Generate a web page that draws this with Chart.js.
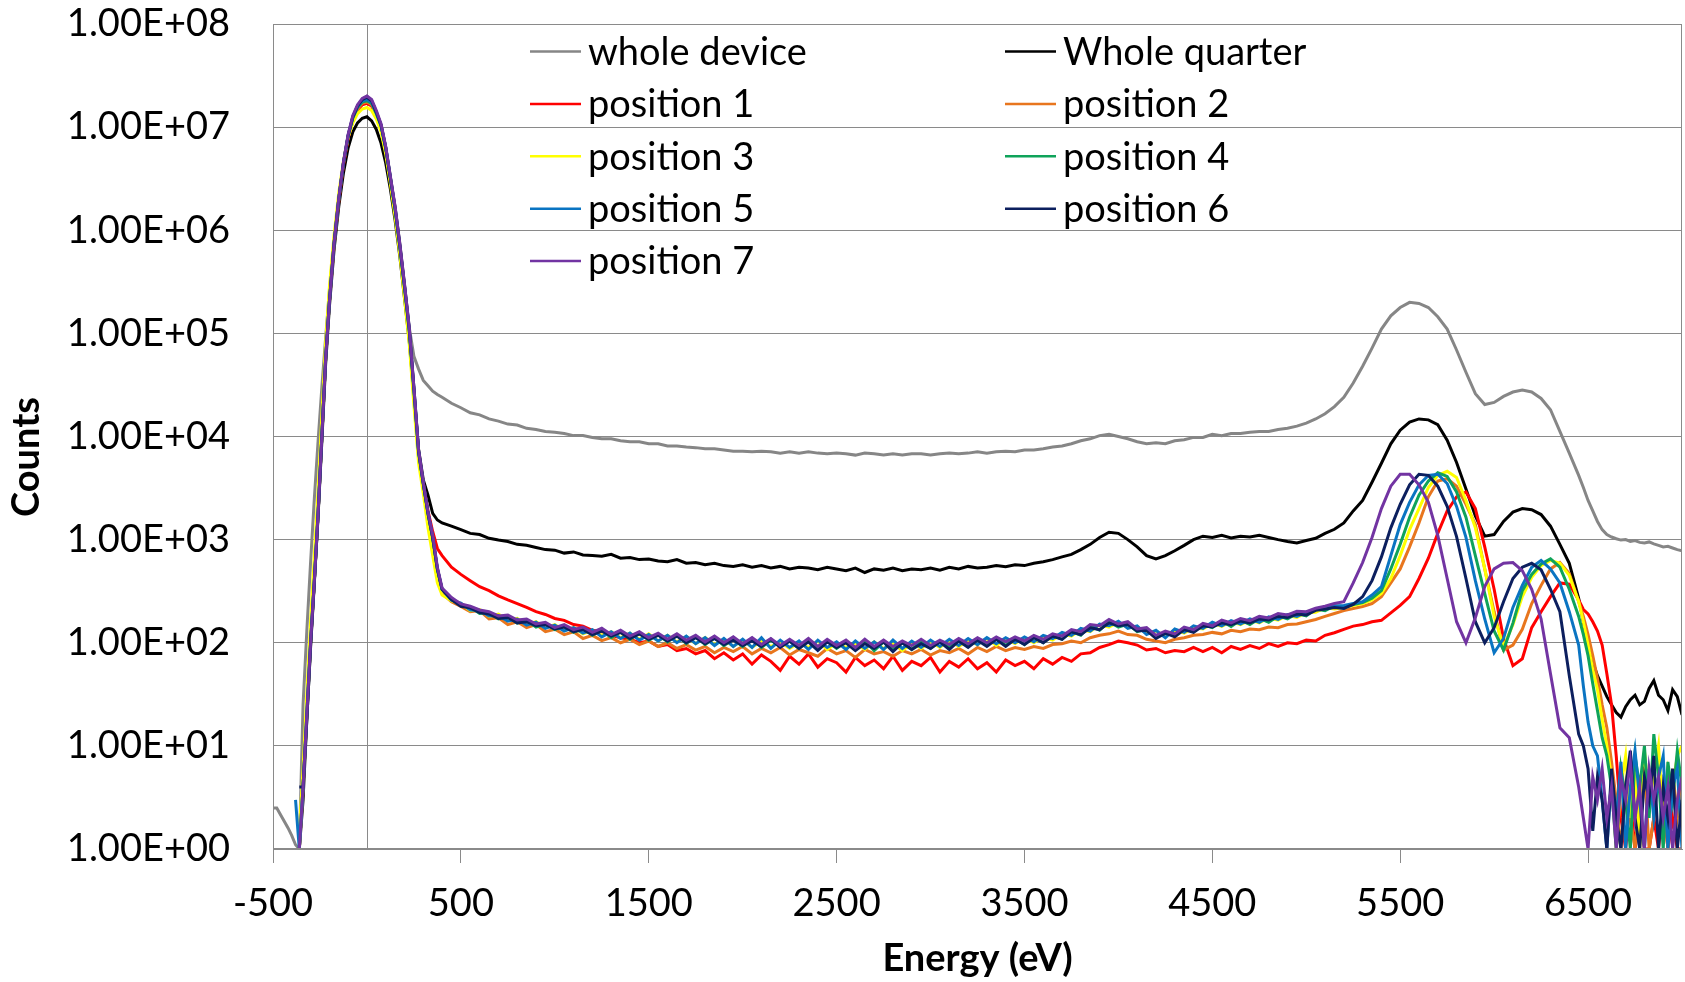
<!DOCTYPE html>
<html><head><meta charset="utf-8">
<script src="https://cdn.jsdelivr.net/npm/chart.js@4.4.1/dist/chart.umd.min.js"></script>
<style>html,body{margin:0;padding:0;background:#fff;}#wrap{width:1685px;height:982px;position:relative;}</style>
</head><body><div id="wrap"><canvas id="c" width="1685" height="982"></canvas></div>
<script>
const energy = [-500,-480,-450,-420,-400,-380,-360,-340,-320,-300,-280,-260,-240,-220,-200,
-175,-150,-125,-100,-75,-50,-25,0,25,50,75,100,125,150,175,200,225,250,275,300,325,350,375,400,
450,500,550,600,650,700,750,800,850,900,
950,1000,1050,1100,1150,1200,1250,1300,1350,1400,
1450,1500,1550,1600,1650,1700,1750,1800,1850,1900,
1950,2000,2050,2100,2150,2200,2250,2300,2350,2400,
2450,2500,2550,2600,2650,2700,2750,2800,2850,2900,
2950,3000,3050,3100,3150,3200,3250,3300,3350,3400,
3450,3500,3550,3600,3650,3700,3750,3800,3850,3900,
3950,4000,4050,4100,4150,4200,4250,4300,4350,4400,
4450,4500,4550,4600,4650,4700,4750,4800,4850,4900,
4950,5000,5050,5100,5150,5200,5250,5300,5350,5400,
5450,5500,5550,5600,5650,5700,5750,5800,5850,5900,
5950,6000,6050,6100,6150,6200,6250,6300,6350,6400,
6450,
6475,6500,6525,6550,6575,6600,6625,6650,6675,6700,6725,6750,6775,6800,6825,6850,6875,6900,6925,6950,6975,7000];

const wholeDevice = [2.5,2.5,2,1.6,1.35,1.1,1,25,130,600,2500,9000,30000,90000,250000,
800000,2000000,4500000,8300000,12600000,16000000,18600000,20000000,18000000,14000000,10500000,6400000,3300000,1650000,750000,300000,115000,60000,45000,35000,31000,27500,25500,24000,
21000,19000,17000,16200,14800,14100,13200,12900,12000,11700,
11200,11000,10700,10200,10200,9800,9500,9500,9100,8900,
8900,8500,8500,8100,8100,7900,7800,7600,7600,7400,
7200,7200,7100,7200,7100,6900,7100,6900,7100,6900,
6800,6900,6800,6600,6900,6800,6600,6800,6600,6800,
6800,6600,6800,6900,6800,6900,7100,6900,7100,7200,
7100,7400,7400,7600,7900,8100,8500,9100,9500,10200,
10500,10000,9500,8900,8500,8700,8500,9100,9300,9800,
9800,10500,10200,10700,10700,11000,11200,11200,11700,12000,
12600,13500,14800,16600,19500,24000,33000,48000,72000,110000,
148000,178000,200000,195000,178000,145000,110000,69000,42000,26000,
20400,21400,24500,27000,28200,27000,23400,18200,11200,6900,
4200,
3200,2400,1900,1500,1250,1120,1060,1020,990,1000,960,980,940,930,950,910,880,850,860,830,800,780];

const wholeQuarter = [null,null,null,null,null,null,1,3,18,90,380,1700,9000,50000,180000,
650000,1700000,3600000,6300000,9000000,11000000,12200000,12600000,11500000,9500000,7000000,4500000,2500000,1250000,560000,220000,85000,25000,7500,3800,2700,1800,1550,1450,
1350,1250,1150,1120,1030,990,960,900,880,840,
800,790,740,760,710,700,690,720,660,670,
640,650,620,610,640,590,600,570,590,560,
550,570,540,560,530,550,520,540,530,510,
540,520,500,530,480,520,505,530,500,520,
510,530,505,540,520,550,530,540,560,545,
570,560,590,610,640,680,720,800,900,1050,
1180,1150,1000,850,700,650,700,780,880,1000,
1080,1050,1100,1040,1080,1060,1100,1050,1000,960,
930,980,1030,1150,1260,1450,1900,2400,3600,5500,
8500,11500,13800,14800,14500,13000,9200,5600,3100,1700,
1080,1120,1500,1850,2000,1950,1750,1350,900,590,
270,
160,95,65,48,38,30,25,21,19,24,28,31,25,27,36,43,31,28,22,35,30,20];

const position1 = [null,null,null,null,null,null,1,4,20,100,400,1800,10000,56000,200000,
720000,1900000,4300000,7800000,11500000,14500000,16500000,17000000,16000000,12800000,9800000,6000000,3100000,1550000,690000,280000,107000,28000,7000,3500,1900,1200,820,700,
540,460,400,350,320,285,260,240,220,200,
188,172,165,150,145,132,128,118,112,108,
100,104,92,96,84,88,78,84,70,80,
68,78,62,76,66,54,74,62,78,58,
70,64,52,72,60,68,56,74,54,66,
60,72,52,66,58,70,56,64,52,68,
60,66,56,70,62,72,66,78,80,90,
96,104,100,95,85,88,80,84,82,90,
82,90,80,92,86,94,88,98,92,100,
98,106,104,118,125,
135,145,150,160,165,195,230,280,420,660,
1150,1900,2600,2900,2000,850,330,110,60,70,
140,200,280,380,370,260,
210,190,160,130,95,50,25,8,2,1,3,1,2,1,1,2,1,3,1,2,1,1];

const position2 = [null,null,null,null,null,null,1,4,20,100,400,1800,10000,56000,200000,
730000,1950000,4400000,8000000,12000000,15000000,17000000,17500000,16500000,13000000,10000000,6100000,3100000,1550000,690000,275000,105000,27000,6800,3300,1700,950,480,300,
250,225,200,205,170,175,150,160,140,150,
128,135,120,128,110,118,105,112,100,108,
96,104,92,100,88,96,85,92,80,90,
82,92,78,88,80,90,76,86,80,74,
88,78,84,72,86,78,82,74,84,78,
86,76,84,80,88,78,90,82,92,84,
90,86,92,88,96,98,104,100,112,118,
122,130,120,118,108,104,100,108,112,118,
120,126,122,132,128,136,134,142,140,150,
152,160,168,180,192,
205,215,225,240,280,380,520,850,1450,2600,
3700,3900,3300,2200,1400,520,200,85,95,135,
240,360,520,600,470,250,
180,120,75,45,25,15,7,3,1,4,2,1,3,6,1,2,5,3,1,6,2,4];

const position3 = [null,null,null,null,null,null,1.5,6,32,160,700,3000,16000,80000,280000,
900000,2300000,4700000,8000000,11000000,13500000,15000000,15500000,14500000,12000000,9000000,5500000,2800000,1350000,580000,220000,80000,20000,5500,2800,1300,700,380,290,
255,240,205,210,180,190,165,172,150,160,
140,150,132,140,122,132,118,128,112,124,
108,122,104,118,102,115,98,112,96,108,
92,106,90,104,92,102,88,100,90,104,
86,100,90,98,86,102,88,98,84,100,
88,102,90,106,92,104,96,110,94,108,
98,112,100,114,106,122,116,134,128,150,
142,158,140,142,124,130,116,132,124,140,
136,154,144,160,150,166,156,174,166,184,
176,196,198,218,212,
220,230,240,260,300,420,700,1250,2000,3200,
4200,4600,4000,2400,1300,520,180,92,150,280,
430,560,630,590,450,250,
160,95,55,35,18,10,5,1,4,8,2,6,1,9,3,5,10,2,6,4,8,10];

const position4 = [null,null,null,null,null,null,1,4,20,100,400,1800,10000,56000,200000,
740000,2000000,4500000,8200000,12300000,15500000,17500000,18000000,17000000,13500000,10300000,6300000,3200000,1600000,700000,280000,107000,28000,7000,3500,1800,1050,520,330,
270,228,222,192,196,170,180,155,165,142,
152,134,146,126,138,118,132,112,128,108,
124,106,120,102,118,98,116,96,112,94,
108,92,110,90,106,92,104,88,106,86,
104,88,102,86,104,84,102,88,100,86,
102,88,104,90,106,92,108,94,110,94,
110,96,114,100,118,108,128,118,146,132,
160,142,152,128,136,114,128,118,140,128,
150,140,162,144,166,150,172,158,182,170,
192,182,212,205,228,
225,235,245,270,320,520,900,1650,2700,3700,
4450,4100,2900,1650,700,300,130,85,155,320,
460,580,650,540,330,180,
120,75,40,22,12,8,4,1,6,3,1,8,4,10,2,13,5,1,7,3,9,4];

const position5 = [null,null,null,null,null,3,1,4,20,100,400,1800,10000,56000,200000,
740000,2000000,4500000,8300000,12500000,15800000,18000000,18500000,17500000,13800000,10400000,6300000,3200000,1600000,700000,285000,110000,29000,7200,3500,1800,1050,520,330,
258,242,208,206,182,184,162,170,148,158,
138,148,130,140,124,134,114,128,110,124,
106,120,104,118,100,116,98,112,94,110,
92,108,90,112,88,106,90,104,86,106,
90,102,86,104,88,102,86,106,88,104,
90,106,92,108,94,110,96,112,98,112,
100,114,102,118,110,126,118,138,130,152,
146,162,138,146,120,132,112,136,126,146,
138,158,146,164,152,170,158,178,168,188,
180,198,210,222,226,
230,240,250,290,350,700,1400,2300,3400,4200,
4300,3500,2100,1050,400,170,80,110,220,360,
540,630,520,380,200,95,
38,17,10,8,3,1,5,2,7,1,4,9,3,1,6,2,5,8,1,4,6,1];

const position6 = [null,null,null,null,null,null,4,4,18,95,390,1750,9800,55000,200000,
740000,2000000,4500000,8300000,12600000,16000000,18500000,19500000,18000000,14000000,10500000,6300000,3200000,1650000,720000,290000,112000,30000,7200,3500,1800,1050,520,330,
262,226,218,196,190,172,176,156,160,146,
150,136,142,128,134,120,130,116,126,110,
122,108,118,104,116,100,112,98,110,96,
106,94,104,92,108,90,104,88,102,84,
102,90,100,84,98,88,102,82,100,86,
98,88,102,86,104,90,106,92,108,92,
108,96,112,100,116,108,128,120,140,134,
156,146,150,130,132,110,124,114,134,126,
146,142,156,150,162,156,170,166,180,176,
190,186,206,212,220,
215,235,280,400,680,1300,2200,3400,4300,4200,
3300,2100,1070,420,160,100,140,250,420,540,
590,510,330,200,48,13,
10,6,1.5,5,3,1,6,2,1,4,9,2,1,5,3,8,1,4,2,6,1,3];

const position7 = [null,null,null,null,null,null,1,4,20,100,400,1800,10000,56000,200000,
750000,2050000,4600000,8500000,13000000,16500000,19000000,20000000,18500000,14500000,10800000,6500000,3300000,1700000,740000,300000,115000,30000,7400,3600,1850,1100,540,340,
275,238,226,208,200,182,186,166,170,152,
158,140,150,134,142,126,138,120,132,116,
128,112,124,108,122,106,118,102,116,100,
114,98,112,96,110,94,108,94,110,92,
108,94,106,90,108,92,106,92,104,94,
108,94,106,96,110,98,112,100,114,102,
114,104,118,108,122,116,134,128,150,146,
168,152,160,136,140,118,130,122,142,134,
154,146,166,156,172,164,180,174,192,186,
202,200,216,226,240,
250,380,600,1050,2000,3300,4300,4300,3400,2300,
1100,420,160,100,175,350,520,590,600,500,
330,170,50,15,12,4,
2,1,5,3,6,2,4,1,5,3,7,2,4,1,6,3,5,2,4,1,3,5];

const seriesNames = ['whole device','Whole quarter','position 1','position 2','position 3','position 4','position 5','position 6','position 7'];
const seriesValues = [wholeDevice, wholeQuarter, position1, position2, position3, position4, position5, position6, position7];
const seriesColors = ['#868686','#000000','#ff0000','#e8761e','#ffff00','#0fa35a','#0a74c2','#0c1f5e','#7234a2'];

const xTickValues = [-500,500,1500,2500,3500,4500,5500,6500];
const yTickValues = [1,10,100,1000,10000,100000,1000000,10000000,100000000];
const yTickLabels = ['1.00E+00','1.00E+01','1.00E+02','1.00E+03','1.00E+04','1.00E+05','1.00E+06','1.00E+07','1.00E+08'];
const xTitle = 'Energy (eV)';
const yTitle = 'Counts';

const GRID = '#8a8a8a';
const FONT = 'Lato, "Open Sans", sans-serif';

const frameAndLegend = {
  id: 'frameAndLegend',
  beforeDatasetsDraw(chart) {
    const {ctx, chartArea, scales} = chart;
    const x0 = Math.round(scales.x.getPixelForValue(0)) + 0.5;
    ctx.save();
    ctx.strokeStyle = GRID; ctx.lineWidth = 1;
    ctx.beginPath(); ctx.moveTo(x0, chartArea.top); ctx.lineTo(x0, chartArea.bottom); ctx.stroke();
    ctx.restore();
  },
  afterDatasetsDraw(chart) {
    const {ctx, chartArea} = chart;
    ctx.save();
    ctx.strokeStyle = GRID; ctx.lineWidth = 1;
    ctx.strokeRect(Math.round(chartArea.left) + 0.5, Math.round(chartArea.top) + 0.5,
      Math.round(chartArea.right - chartArea.left) - 1, Math.round(chartArea.bottom - chartArea.top) - 1);
    const colX = [530, 1005];
    const lineLen = 51, gap = 7, rowY0 = 51.5, rowH = 52.4;
    ctx.font = '38px ' + FONT;
    ctx.textBaseline = 'middle';
    ctx.fillStyle = '#000';
    chart.data.datasets.forEach((ds, i) => {
      const col = i % 2, row = Math.floor(i / 2);
      const x = colX[col], y = rowY0 + row * rowH;
      ctx.strokeStyle = ds.borderColor; ctx.lineWidth = 2.5;
      ctx.beginPath(); ctx.moveTo(x, y); ctx.lineTo(x + lineLen, y); ctx.stroke();
      ctx.fillText(ds.label, x + lineLen + gap, y + 1);
    });
    ctx.restore();
  },
  afterDraw(chart) {
    const ctx = chart.ctx;
    ctx.save();
    ctx.translate(27, 457);
    ctx.rotate(-Math.PI / 2);
    ctx.font = 'bold 38px ' + FONT;
    ctx.textAlign = 'center';
    ctx.textBaseline = 'middle';
    ctx.fillStyle = '#000';
    ctx.fillText(yTitle, 0, 0);
    ctx.restore();
  }
};

function draw() {
  const datasets = seriesValues.map((vals, i) => ({
    label: seriesNames[i],
    data: energy.map((e, j) => ({x: e, y: vals[j]})),
    borderColor: seriesColors[i],
    backgroundColor: seriesColors[i],
    borderWidth: 3,
    pointRadius: 0,
    tension: 0,
    fill: false,
    spanGaps: false,
    order: seriesValues.length - i
  }));
  new Chart(document.getElementById('c'), {
    type: 'line',
    data: {datasets},
    options: {
      responsive: false,
      animation: false,
      devicePixelRatio: 1,
      layout: {padding: {top: 24, right: 3, left: 0, bottom: 0}},
      plugins: {legend: {display: false}, tooltip: {enabled: false}},
      scales: {
        x: {
          type: 'linear', min: -500, max: 7000,
          afterBuildTicks: s => { s.ticks = xTickValues.map(v => ({value: v})); },
          afterFit: s => { s.height = 133; s.paddingLeft = 0; s.paddingRight = 0; },
          ticks: {autoSkip: false, maxRotation: 0, padding: 18, color: '#000', font: {family: FONT, size: 38},
            callback: v => String(v)},
          grid: {display: true, drawOnChartArea: false, drawTicks: true, tickLength: 14, color: GRID, lineWidth: 1},
          border: {display: true, color: GRID, width: 1},
          title: {display: true, text: xTitle, color: '#000', font: {family: FONT, size: 38, weight: 'bold'}, padding: {top: 0, bottom: 0}}
        },
        y: {
          type: 'logarithmic', min: 1, max: 100000000,
          afterBuildTicks: s => { s.ticks = yTickValues.map(v => ({value: v})); },
          afterFit: s => { s.width = 273; s.paddingTop = 0; s.paddingBottom = 0; },
          ticks: {autoSkip: false, padding: 43, color: '#000', font: {family: FONT, size: 38},
            callback: v => { const k = yTickValues.indexOf(v); return k >= 0 ? yTickLabels[k] : ''; }},
          grid: {display: true, drawTicks: false, tickLength: 0, color: GRID, lineWidth: 1},
          border: {display: true, color: GRID, width: 1},
          title: {display: false}
        }
      }
    },
    plugins: [frameAndLegend]
  });
}
const fontReady = (document.fonts && document.fonts.load)
  ? Promise.all([document.fonts.load('38px Lato'), document.fonts.load('bold 38px Lato')]).catch(() => {})
  : Promise.resolve();
fontReady.then(draw, draw);
</script>
</body></html>
